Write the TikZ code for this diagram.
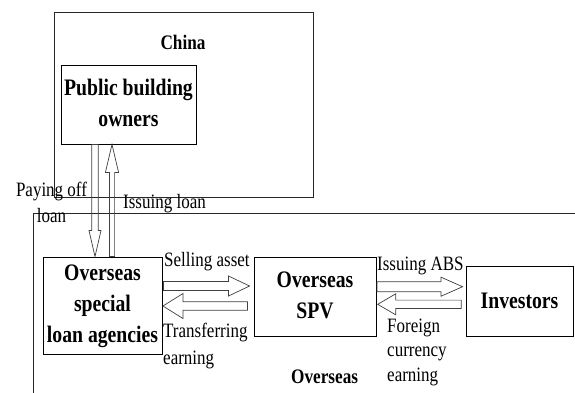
\documentclass[tikz,border=0pt]{standalone}
\usepackage{fontspec}
\usepackage{graphicx}
\setmainfont{Liberation Serif}
\usetikzlibrary{calc}
\newcommand\vstr[1]{\scalebox{1}[1.2]{#1}}
\tikzset{
  box/.style={draw=black, line width=0.9pt, inner sep=0pt, align=center,
    font=\fontsize{19.7}{26}\selectfont\bfseries},
  region/.style={draw=black!85, line width=0.9pt},
  lbl/.style={inner sep=0pt, font=\fontsize{17}{22.5}\selectfont},
  blbl/.style={inner sep=0pt, font=\fontsize{17.2}{22}\selectfont\bfseries},
  fatarrow/.style={draw=black!75, line width=0.7pt},
  fatR/.style n args={3}{to path={let \p1=(\tikztostart),\p2=(\tikztotarget) in
    (\x1,\y1+#1) -- (\x2-#3,\y1+#1) -- (\x2-#3,\y1+#2) -- (\x2,\y1) --
    (\x2-#3,\y1-#2) -- (\x2-#3,\y1-#1) -- (\x1,\y1-#1) -- cycle}},
  fatL/.style n args={3}{to path={let \p1=(\tikztostart),\p2=(\tikztotarget) in
    (\x1,\y1+#1) -- (\x2+#3,\y1+#1) -- (\x2+#3,\y1+#2) -- (\x2,\y1) --
    (\x2+#3,\y1-#2) -- (\x2+#3,\y1-#1) -- (\x1,\y1-#1) -- cycle}},
  fatD/.style n args={3}{to path={let \p1=(\tikztostart),\p2=(\tikztotarget) in
    (\x1+#1,\y1) -- (\x1+#1,\y2+#3) -- (\x1+#2,\y2+#3) -- (\x1,\y2) --
    (\x1-#2,\y2+#3) -- (\x1-#1,\y2+#3) -- (\x1-#1,\y1) -- cycle}},
  fatU/.style n args={3}{to path={let \p1=(\tikztostart),\p2=(\tikztotarget) in
    (\x1+#1,\y1) -- (\x1+#1,\y2-#3) -- (\x1+#2,\y2-#3) -- (\x1,\y2) --
    (\x1-#2,\y2-#3) -- (\x1-#1,\y2-#3) -- (\x1-#1,\y1) -- cycle}},
}
\begin{document}
\begin{tikzpicture}[x=1pt,y=-1pt]
\useasboundingbox[fill=white] (0,0) rectangle (575,392);
% regions
\node[region, inner sep=0pt, minimum width=259pt, minimum height=185pt] (china) at (183.5,104.5) {};
\coordinate (ovtr) at (580,213);
\coordinate (ovtl) at (33,213);
\coordinate (ovbl) at (33,400);
\draw[region] (ovtr) -- (ovtl) -- (ovbl);
% boxes
\node[box, minimum width=135pt, minimum height=79pt] (pbo) at (128.5,104.5)
  {\vstr{\begin{tabular}{@{}c@{}}Public building\\owners\end{tabular}}};
\node[box, minimum width=119pt, minimum height=97pt] (ag) at (102.5,305.5)
  {\vstr{\begin{tabular}{@{}c@{}}Overseas\\special\\loan agencies\end{tabular}}};
\node[box, minimum width=122pt, minimum height=79pt] (spv) at (315,296.5)
  {\vstr{\begin{tabular}{@{}c@{}}Overseas\\SPV\end{tabular}}};
\node[box, minimum width=107pt, minimum height=70pt] (inv) at (519.5,301)
  {\vstr{Investors}};
% fat arrows
\draw[fatarrow] ($(pbo.south)+(-33.5,0)$) to[fatD={3.3pt}{6pt}{26pt}] ($(ag.north)+(-7.5,0)$);
\draw[fatarrow] ($(ag.north)+(9.5,0)$) to[fatU={2.6pt}{6.6pt}{28pt}] ($(pbo.south)+(-16.5,0)$);
\draw[fatarrow] ($(ag.east)+(1,-19.5)$) to[fatR={4.5pt}{10pt}{21pt}] ($(spv.west)+(-4,-10.5)$);
\draw[fatarrow] ($(spv.west)+(-6,9.5)$) to[fatL={4.2pt}{12.5pt}{20pt}] ($(ag.east)+(0.5,0.5)$);
\draw[fatarrow] ($(spv.east)+(0.5,-9.8)$) to[fatR={5pt}{9.5pt}{21.5pt}] ($(inv.west)+(-3,-14.3)$);
\draw[fatarrow] ($(inv.west)+(-4.3,3.3)$) to[fatL={4.2pt}{10.5pt}{18pt}] ($(spv.east)+(1.3,7.8)$);
% labels
\node[blbl, anchor=base] (chinalbl) at (183,49) {\vstr{China}};
\node[blbl, anchor=base west] (overlbl) at (291,383) {\vstr{Overseas}};
\node[lbl, font=\fontsize{17}{21.7}\selectfont, anchor=base] (payl) at (51.5,196)
  {\vstr{\begin{tabular}[t]{@{}c@{}}Paying off\\loan\end{tabular}}};
\node[lbl, anchor=base west] (issl) at (123,208) {\vstr{Issuing loan}};
\node[lbl, anchor=base west] (sell) at (164,266.5) {\vstr{Selling asset}};
\node[lbl, font=\fontsize{17}{23.3}\selectfont, anchor=base west] (tran) at (163,337)
  {\vstr{\begin{tabular}[t]{@{}l@{}}Transferring\\earning\end{tabular}}};
\node[lbl, anchor=base west] (abs) at (377,270) {\vstr{Issuing ABS}};
\node[lbl, font=\fontsize{17}{20.8}\selectfont, anchor=base west] (fce) at (387,332)
  {\vstr{\begin{tabular}[t]{@{}l@{}}Foreign\\currency\\earning\end{tabular}}};
\end{tikzpicture}
\end{document}
